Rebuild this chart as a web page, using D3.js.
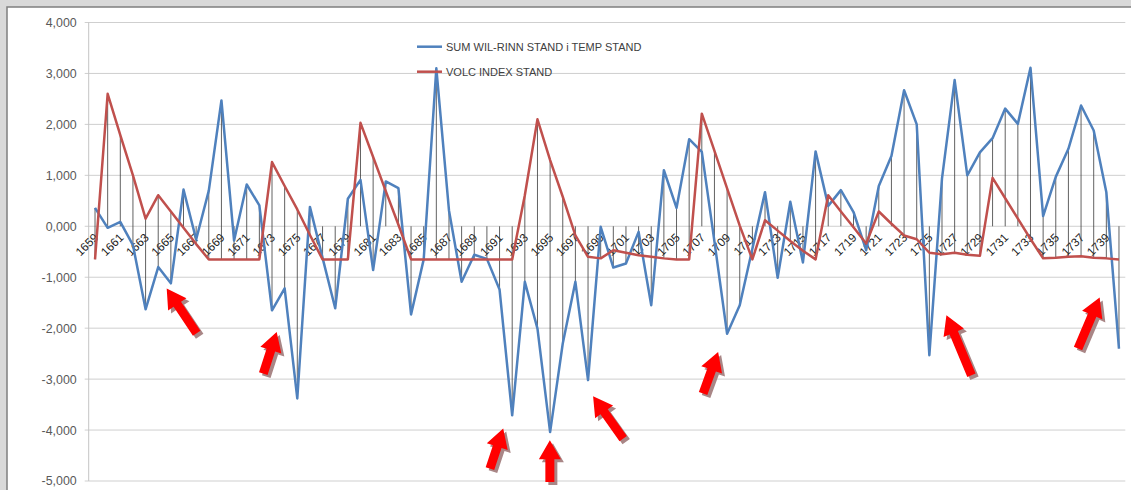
<!DOCTYPE html>
<html>
<head>
<meta charset="utf-8">
<script src="https://cdn.jsdelivr.net/npm/d3@7"></script>
<style>
  body { margin: 0; background: #d9d9d9; }
  svg { display: block; }
</style>
</head>
<body>
<div id="chart_area"></div>
<script>
// categories
var years = d3.range(1659, 1741);
var labelYears = years.filter(function (d, i) { return i % 2 === 0; });

// series values
var sumWilRinn = [
    360, -30, 85, -370, -1630, -800, -1120, 720, -260, 700,      // 1659-1668
    2470, -280, 820, 410, -1650, -1220, -3380, 380, -620, -1610, // 1669-1678
    540, 910, -860, 880, 750, -1730, -650, 3100, 310, -1090,     // 1679-1688
    -560, -640, -1240, -3710, -1090, -2010, -4040, -2300, -1090, -3020, // 1689-1698
    -10, -810, -730, -110, -1550, 1100, 360, 1710, 1460, -300,   // 1699-1708
    -2110, -1550, -440, 670, -1010, 480, -710, 1470, 400, 710,   // 1709-1718
    280, -470, 790, 1380, 2670, 2000, -2530, 940, 2870, 1000,    // 1719-1728
    1450, 1730, 2310, 2010, 3110, 200, 970, 1520, 2370, 1880,    // 1729-1738
    670, -2400                                                   // 1739-1740
];
var volcIndex = [
    -650, 2600, 1790, 1000, 150, 610, 290, -30, -350, -650,
    -650, -650, -650, -650, 1260, 790, 330, -170, -650, -650,
    -650, 2030, 1360, 690, 30, -650, -650, -650, -650, -650,
    -650, -650, -650, -650, 610, 2100, 1300, 580, -180, -600,
    -630, -470, -520, -570, -600, -630, -650, -650, 2210, 1480,
    745, 13, -650, 120, -85, -290, -480, -650, 610, 290,
    -20, -340, 290, 50, -180, -255, -520, -550, -520, -560,
    -580, 950, 550, 150, -250, -630, -620, -600, -590, -620,
    -630, -650
];
var seriesNames = ["SUM WIL-RINN STAND i TEMP STAND", "VOLC INDEX STAND"];
var seriesColors = ["#4f81bd", "#c0504d"];

// y axis ticks
var yTicks = [4000, 3000, 2000, 1000, 0, -1000, -2000, -3000, -4000, -5000];
var yTickLabels = ["4,000", "3,000", "2,000", "1,000", "0,000", "-1,000", "-2,000", "-3,000", "-4,000", "-5,000"];

// red arrows (tip and tail, in data units)
var arrowTipYears = [1664.67, 1673.37, 1691.29, 1694.98, 1698.40, 1708.29, 1726.35, 1738.47];
var arrowTipValues = [-1223, -2075, -3971, -4201, -3337, -2468, -1747, -1400];
var arrowTailYears = [1667.04, 1672.31, 1690.24, 1694.98, 1700.78, 1707.10, 1728.33, 1736.76];
var arrowTailValues = [-2100, -2892, -4757, -5020, -4168, -3284, -2925, -2401];

var W = 1131, H = 490;
var plotLeft = 88.7, plotRight = 1125.3, plotTop = 22.5, plotBottom = 481;

var svg = d3.select("#chart_area")
    .append("svg")
    .attr("width", W)
    .attr("height", H);

// chart frame
svg.append("rect").attr("width", W).attr("height", H).attr("fill", "#d9d9d9");
svg.append("rect")
    .attr("x", 7).attr("y", 7)
    .attr("width", W + 20).attr("height", H + 20)
    .attr("fill", "#fff")
    .attr("stroke", "#7f7f7f")
    .attr("stroke-width", 1.5);

var x = d3.scaleLinear()
    .domain([years[0] - 0.5, years[years.length - 1] + 0.5])
    .range([plotLeft, plotRight]);

var y = d3.scaleLinear()
    .domain([-5000, 4000])
    .range([plotBottom, plotTop]);

// gridlines
svg.append("g")
    .selectAll("line")
    .data(yTicks)
    .enter()
    .append("line")
    .attr("x1", plotLeft - 4)
    .attr("x2", plotRight)
    .attr("y1", function (d) { return y(d); })
    .attr("y2", function (d) { return y(d); })
    .attr("stroke", "#cfcfcf")
    .attr("stroke-width", 1);

svg.append("line")
    .attr("x1", plotLeft).attr("x2", plotLeft)
    .attr("y1", plotTop).attr("y2", plotBottom)
    .attr("stroke", "#c4c4c4");

// y axis labels
var yAxis = svg.append("g")
    .attr("transform", "translate(" + plotLeft + ",0)")
    .call(d3.axisLeft(y)
        .tickValues(yTicks)
        .tickSize(0)
        .tickPadding(12)
        .tickFormat(function (d, i) { return yTickLabels[i]; }));
yAxis.select(".domain").remove();
yAxis.selectAll("text")
    .attr("fill", "#595959")
    .style("font-family", "'Liberation Sans', Arial, sans-serif")
    .style("font-size", "12.4px");

// x axis labels at the zero line, rotated
svg.append("g")
    .selectAll("text")
    .data(labelYears)
    .enter()
    .append("text")
    .attr("transform", function (d) {
        return "translate(" + (x(d) + 4) + "," + (y(0) + 12) + ")rotate(-45)";
    })
    .attr("text-anchor", "end")
    .attr("fill", "#1a1a1a")
    .style("font-family", "'Liberation Sans', Arial, sans-serif")
    .style("font-size", "11.8px")
    .text(function (d) { return d; });

// high-low lines (including the zero line)
svg.append("g")
    .selectAll("line")
    .data(years)
    .enter()
    .append("line")
    .attr("x1", function (d) { return x(d); })
    .attr("x2", function (d) { return x(d); })
    .attr("y1", function (d, i) { return y(Math.max(0, sumWilRinn[i], volcIndex[i])); })
    .attr("y2", function (d, i) { return y(Math.min(0, sumWilRinn[i], volcIndex[i])); })
    .attr("stroke", "#3a3a3a")
    .attr("stroke-width", 0.8);

var line = d3.line()
    .x(function (d, i) { return x(years[i]); })
    .y(function (d) { return y(d); });

[sumWilRinn, volcIndex].forEach(function (s, k) {
    svg.append("path")
        .datum(s)
        .attr("d", line)
        .attr("fill", "none")
        .attr("stroke", seriesColors[k])
        .attr("stroke-width", 2.5)
        .attr("stroke-linejoin", "round");
});

// legend
var legend = svg.append("g");
seriesNames.forEach(function (name, k) {
    var ly = 46.7 + k * 25;
    legend.append("line")
        .attr("x1", 417).attr("x2", 442)
        .attr("y1", ly).attr("y2", ly)
        .attr("stroke", seriesColors[k])
        .attr("stroke-width", 2.5);
    legend.append("text")
        .attr("x", 446)
        .attr("y", ly)
        .attr("dy", "0.35em")
        .attr("fill", "#404040")
        .style("font-family", "'Liberation Sans', Arial, sans-serif")
        .style("font-size", "11px")
        .text(name);
});

// arrows
function arrowPoints(len) {
    var w = 4.5, hl = 19, hw = 11;
    return [[0, -w], [len - hl, -w], [len - hl, -hw], [len, 0], [len - hl, hw], [len - hl, w], [0, w]]
        .map(function (p) { return p.join(","); }).join(" ");
}
var arrows = svg.append("g");
arrowTipYears.forEach(function (ty, i) {
    var tx = x(ty), tyy = y(arrowTipValues[i]);
    var sx = x(arrowTailYears[i]), sy = y(arrowTailValues[i]);
    var len = Math.hypot(tx - sx, tyy - sy);
    var ang = Math.atan2(tyy - sy, tx - sx) * 180 / Math.PI;
    arrows.append("polygon")
        .attr("points", arrowPoints(len))
        .attr("transform", "translate(" + (sx + 3) + "," + (sy + 3) + ")rotate(" + ang + ")")
        .attr("fill", "#a98686");
    arrows.append("polygon")
        .attr("points", arrowPoints(len))
        .attr("transform", "translate(" + sx + "," + sy + ")rotate(" + ang + ")")
        .attr("fill", "#ff0000");
});
</script>
</body>
</html>
